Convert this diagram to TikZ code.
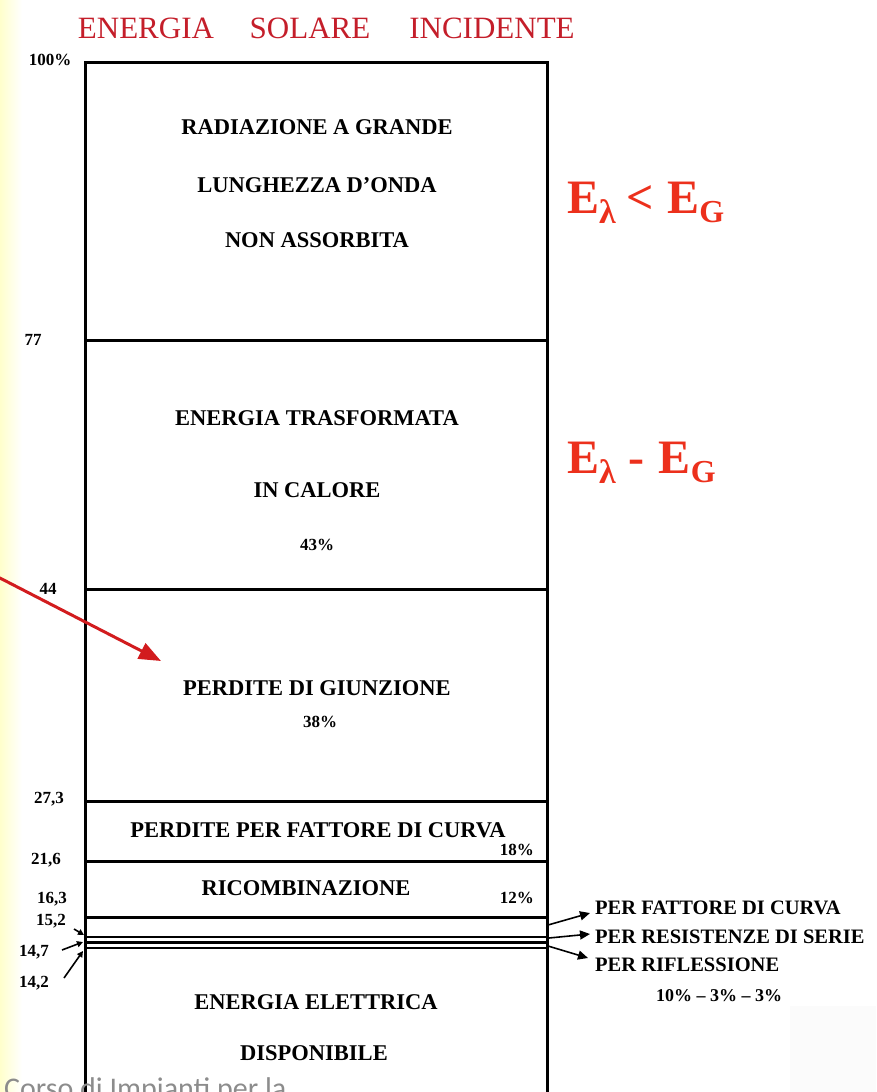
\documentclass[tikz,border=0pt]{standalone}
\usepackage{fontspec}
\setmainfont{Liberation Serif}
\newfontfamily\carl{Carlito}
\usetikzlibrary{arrows.meta}
\definecolor{titlered}{RGB}{196,30,42}
\definecolor{ered}{RGB}{236,48,28}
\definecolor{arrred}{RGB}{210,28,30}
\definecolor{footgray}{RGB}{140,140,140}
\begin{document}
\begin{tikzpicture}[x=1pt,y=-1pt,
  bline/.style={line width=3pt},
  tline/.style={line width=2.2pt},
  titletxt/.style={font=\fontsize{31}{31}\selectfont, text=titlered, inner sep=0pt, anchor=base},
  boxtxt/.style={font=\fontsize{22.5}{22.5}\selectfont\bfseries, inner sep=0pt, text depth=0pt},
  pct/.style={font=\fontsize{17}{17}\selectfont\bfseries, inner sep=0pt, text depth=0pt},
  lbl/.style={font=\fontsize{17}{17}\selectfont\bfseries, inner sep=0pt, text depth=0pt},
  rtxt/.style={font=\fontsize{20.5}{20.5}\selectfont\bfseries, inner sep=0pt, text depth=0pt, anchor=west},
  etxt/.style={font=\fontsize{48}{48}\selectfont\bfseries, text=ered, inner sep=0pt, anchor=base west},
  smallarr/.style={line width=1.6pt, -{Triangle[length=6pt,width=6pt]}},
  rarr/.style={line width=1.6pt, -{Triangle[length=10pt,width=9pt]}},
  redarr/.style={line width=3pt, draw=arrred, -{Triangle[length=22pt,width=17pt]}}
]
\useasboundingbox (0,0) rectangle (876,1092);
\clip (0,0) rectangle (876,1092);
% background accents
\shade[left color=yellow!20, right color=white] (0,0) rectangle (22,1092);
\fill[gray!3] (790,1006) rectangle (876,1092);

% title
\node[titletxt] (t1) at (146,38) {ENERGIA};
\node[titletxt] (t2) at (310,38) {SOLARE};
\node[titletxt] (t3) at (492,38) {INCIDENTE};

% box frame
\draw[bline] (85,1100) -- (85,62) -- (547,62) -- (547,1100);
\draw[bline] (85,340) -- (547,340);
\draw[bline] (85,589) -- (547,589);
\draw[bline] (85,801) -- (547,801);
\draw[bline] (85,861) -- (547,861);
\draw[bline] (85,917) -- (547,917);
\draw[tline] (85,937) -- (547,937);
\draw[tline] (85,942.5) -- (547,942.5);
\draw[tline] (85,948) -- (547,948);

% box texts
\node[boxtxt] (a1) at (317,127) {RADIAZIONE A GRANDE};
\node[boxtxt] (a2) at (317,185) {LUNGHEZZA D'ONDA};
\node[boxtxt] (a3) at (317,240) {NON ASSORBITA};
\node[boxtxt] (b1) at (317,418) {ENERGIA TRASFORMATA};
\node[boxtxt] (b2) at (317,490) {IN CALORE};
\node[pct] (b3) at (317,545) {43\%};
\node[boxtxt] (c1) at (317,688) {PERDITE DI GIUNZIONE};
\node[pct] (c2) at (320,722) {38\%};
\node[boxtxt] (d1) at (318,830) {PERDITE PER FATTORE DI CURVA};
\node[pct, anchor=east] (d2) at (534,850) {18\%};
\node[boxtxt] (e1) at (306,888) {RICOMBINAZIONE};
\node[pct, anchor=east] (e2) at (534,898) {12\%};
\node[boxtxt] (f1) at (316,1002) {ENERGIA ELETTRICA};
\node[boxtxt] (f2) at (314,1053) {DISPONIBILE};

% left scale labels
\node[lbl] (l100) at (50,60) {100\%};
\node[lbl] (l77) at (33,340) {77};
\node[lbl] (l44) at (48,589) {44};
\node[lbl] (l273) at (49,798) {27,3};
\node[lbl] (l216) at (46,859) {21,6};
\node[lbl] (l163) at (52,898) {16,3};
\node[lbl] (l152) at (51,920) {15,2};
\node[lbl] (l147) at (34,951) {14,7};
\node[lbl] (l142) at (34,982) {14,2};

% left small arrows
\coordinate (s1a) at (74,929); \coordinate (s1b) at (84,935);
\coordinate (s2a) at (62,950); \coordinate (s2b) at (83,942);
\coordinate (s3a) at (64,978); \coordinate (s3b) at (83,951);
\draw[smallarr] (s1a) -- (s1b);
\draw[smallarr] (s2a) -- (s2b);
\draw[smallarr] (s3a) -- (s3b);

% right labels and arrows
\node[rtxt] (r1) at (595,908) {PER FATTORE DI CURVA};
\node[rtxt] (r2) at (595,937) {PER RESISTENZE DI SERIE};
\node[rtxt] (r3) at (595,965) {PER RIFLESSIONE};
\node[font=\fontsize{18}{18}\selectfont\bfseries, inner sep=0pt, text depth=0pt] (r4) at (719,996) {10\% – 3\% – 3\%};
\coordinate (q1) at (548,925); \coordinate (p1) at (590,913);
\coordinate (q2) at (549,938); \coordinate (p2) at (590,934);
\coordinate (q3) at (548,946); \coordinate (p3) at (588,958);
\draw[rarr] (q1) -- (p1);
\draw[rarr] (q2) -- (p2);
\draw[rarr] (q3) -- (p3);

% red energy labels
\node[etxt] (g1) at (567,213) {E\raisebox{-0.22em}{\fontsize{34}{34}\selectfont λ}\hspace{11pt}<\hspace{13pt}E\raisebox{-0.2em}{\fontsize{32}{32}\selectfont G}};
\node[etxt] (g2) at (567,473) {E\raisebox{-0.22em}{\fontsize{34}{34}\selectfont λ}\hspace{13pt}-\hspace{14pt}E\raisebox{-0.2em}{\fontsize{32}{32}\selectfont G}};

% red arrow
\coordinate (ra) at (-4,576);
\coordinate (rb) at (161,661);
\draw[redarr] (ra) -- (rb);

% footer
\node[font=\carl\fontsize{30}{30}\selectfont, text=footgray, inner sep=0pt, anchor=base west] (foot) at (4,1098) {Corso di Impianti per la};
\end{tikzpicture}
\end{document}
